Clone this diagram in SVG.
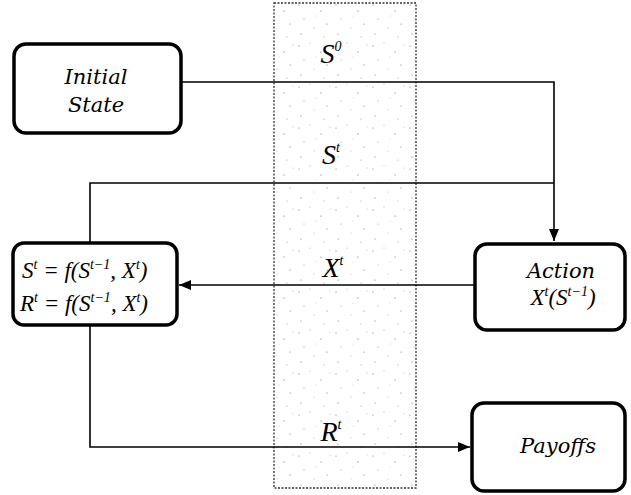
<svg xmlns="http://www.w3.org/2000/svg" width="631" height="495" viewBox="0 0 631 495">
<style>
.box{fill:#fff;stroke:#000;stroke-width:3.5}
.ln{fill:none;stroke:#000;stroke-width:1.6}
text{fill:#000}
.c{text-anchor:middle}
.sup{font-size:14px}
.w{font-family:'DejaVu Serif','Liberation Serif',serif;font-style:italic;font-size:21px}
</style>
<defs>
<pattern id="dots" width="37" height="41" patternUnits="userSpaceOnUse">
<rect width="37" height="41" fill="#fff"/>
<circle cx="3" cy="5" r="0.6" fill="#777"/><circle cx="14" cy="2" r="0.5" fill="#999"/>
<circle cx="25" cy="11" r="0.6" fill="#666"/><circle cx="8" cy="19" r="0.5" fill="#888"/>
<circle cx="31" cy="24" r="0.6" fill="#777"/><circle cx="18" cy="28" r="0.5" fill="#aaa"/>
<circle cx="5" cy="34" r="0.6" fill="#777"/><circle cx="28" cy="37" r="0.5" fill="#888"/>
<circle cx="20" cy="16" r="0.4" fill="#999"/><circle cx="34" cy="4" r="0.5" fill="#aaa"/>
</pattern>
<marker id="ah" viewBox="0 0 12 10" refX="12" refY="5" markerWidth="12" markerHeight="10" markerUnits="userSpaceOnUse" orient="auto">
<path d="M0,0 L12,5 L0,10 Z" fill="#000"/>
</marker>
</defs>
<rect x="274" y="3" width="142" height="485" fill="url(#dots)" stroke="#333" stroke-width="1.3" stroke-dasharray="2,1.5"/>
<g id="connectors">
<path class="ln" d="M182,82 H554 V241" marker-end="url(#ah)"/>
<path class="ln" d="M90,243 V183 H554"/>
<path class="ln" d="M475,285 H179" marker-end="url(#ah)"/>
<path class="ln" d="M90,325 V447 H470" marker-end="url(#ah)"/>
</g>
<g id="labels" font-family="Liberation Serif, serif" font-style="italic" font-size="28">
<text class="c" x="331" y="63">S<tspan class="sup" dy="-12">0</tspan></text>
<text class="c" x="331" y="164">S<tspan class="sup" dy="-12">t</tspan></text>
<text class="c" x="333" y="277">X<tspan class="sup" dy="-12">t</tspan></text>
<text class="c" x="331" y="441">R<tspan class="sup" dy="-12">t</tspan></text>
</g>
<g id="initial">
<rect class="box" x="14" y="44" width="167" height="89" rx="12"/>
<text class="c w" x="96" y="84">Initial</text>
<text class="c w" x="96" y="112">State</text>
</g>
<g id="transition" font-family="Liberation Serif, serif" font-style="italic" font-size="23">
<rect class="box" x="13" y="243" width="164" height="82" rx="11"/>
<text x="22" y="278">S<tspan class="sup" dy="-9">t</tspan><tspan dy="9"> = f(S</tspan><tspan class="sup" dy="-9">t−1</tspan><tspan dy="9">, X</tspan><tspan class="sup" dy="-9">t</tspan><tspan dy="9">)</tspan></text>
<text x="20" y="311">R<tspan class="sup" dy="-9">t</tspan><tspan dy="9"> = f(S</tspan><tspan class="sup" dy="-9">t−1</tspan><tspan dy="9">, X</tspan><tspan class="sup" dy="-9">t</tspan><tspan dy="9">)</tspan></text>
</g>
<g id="action">
<rect class="box" x="475" y="244" width="150" height="86" rx="12"/>
<text class="c w" x="561" y="278">Action</text>
<text class="c" x="563" y="305" font-family="Liberation Serif, serif" font-style="italic" font-size="23">X<tspan class="sup" dy="-9">t</tspan><tspan dy="9">(S</tspan><tspan class="sup" dy="-9">t−1</tspan><tspan dy="9">)</tspan></text>
</g>
<g id="payoffs">
<rect class="box" x="472" y="403" width="153" height="88" rx="12"/>
<text class="c w" x="558" y="453">Payoffs</text>
</g>
</svg>
